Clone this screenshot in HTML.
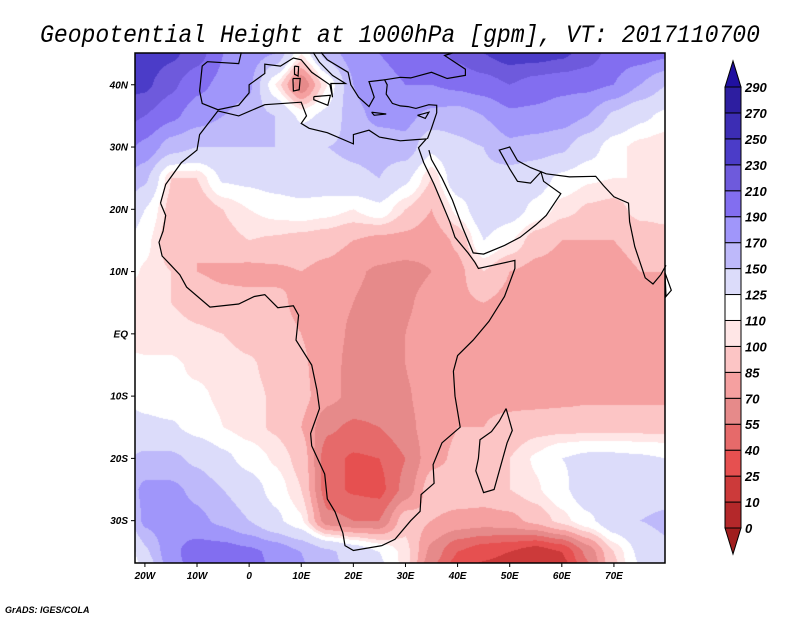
<!DOCTYPE html>
<html><head><meta charset="utf-8"><style>
html,body{margin:0;padding:0;background:#fff;width:800px;height:618px;overflow:hidden}
#wrap{position:relative;width:800px;height:618px}
svg text{font-family:"Liberation Sans",sans-serif}
</style></head><body>
<div id="wrap">
<canvas id="field" width="530" height="510" style="position:absolute;left:135px;top:53px"></canvas>
<svg id="ov" width="800" height="618" style="position:absolute;left:0;top:0"></svg>
</div>
<script>
// ---- data ----
const lons = [-25,-20,-15,-10,-5,0,5,10,15,20,25,30,35,40,45,50,55,60,65,70,75,80];
const lats = [45,40,35,30,25,20,15,10,5,0,-5,-10,-15,-20,-25,-30,-35,-40];
const gridValues = [
[250,245,235,220,190,180,170,110,160,180,190,195,200,215,230,240,240,235,220,200,200,195],
[240,235,215,195,185,175,110,55,110,170,185,190,190,195,200,210,200,195,195,190,170,150],
[220,210,195,180,170,160,150,120,130,165,175,175,165,160,170,185,185,180,170,145,130,120],
[200,185,160,150,150,150,150,145,150,155,160,165,130,145,150,165,160,155,135,115,105,100],
[175,155,100,100,128,130,135,140,140,145,150,130,100,140,145,140,135,120,112,110,110,110],
[150,125,95,90,100,110,115,118,115,110,120,100,85,115,140,135,120,105,98,95,105,105],
[135,115,90,85,95,100,98,95,92,85,80,80,75,88,125,112,92,85,85,85,90,95],
[120,108,100,85,82,80,82,85,80,72,68,65,70,80,100,85,80,78,78,80,85,85],
[105,100,100,95,90,90,88,82,75,70,65,68,75,82,85,80,78,78,80,80,82,82],
[105,105,105,102,100,95,90,85,75,68,66,70,80,85,82,80,78,78,78,80,80,80],
[115,112,112,108,105,102,95,88,75,66,64,70,82,82,80,78,78,78,80,80,82,82],
[125,118,112,112,108,104,98,90,75,66,64,68,78,85,82,80,78,80,82,82,82,82],
[135,130,128,118,110,104,98,85,58,52,55,65,78,85,85,90,95,95,95,95,95,95],
[145,155,155,145,130,118,108,95,45,38,40,55,80,88,90,100,112,125,130,130,128,125],
[150,175,175,165,150,135,118,100,45,38,35,60,95,95,95,100,108,120,140,140,138,140],
[125,175,185,175,165,150,130,112,60,55,55,95,85,80,78,80,90,105,120,140,150,155],
[85,145,185,200,200,195,185,170,155,140,125,105,65,40,30,25,15,25,60,100,130,145],
[70,115,175,200,205,200,190,175,160,150,135,105,45,20,10,5,0,5,40,90,120,140]
];
const levels = [0,10,25,40,55,70,85,100,110,125,150,170,190,210,230,250,270,290];
const levelLabels = ["0","10","25","40","55","70","85","100","110","125","150","170","190","210","230","250","270","290"];
const binColors = ["#b4282a","#cc3a3a","#e65050","#e66a6a","#e68a8a","#f5a0a0","#fcc5c5","#ffe6e6","#ffffff","#dcdcfa","#beb9fa","#a096fa","#826ef0","#6e5adc","#4b3cc8","#3c2db4","#2d1ea0"];
const underColor = "#a01e1e", overColor = "#2010a0";
const xTickLons = [-20,-10,0,10,20,30,40,50,60,70];
const xTickLabels = ["20W","10W","0","10E","20E","30E","40E","50E","60E","70E"];
const yTickLats = [40,30,20,10,0,-10,-20,-30];
const yTickLabels = ["40N","30N","20N","10N","EQ","10S","20S","30S"];

// ---- axes ----
const X0=135,X1=665,Y0=53,Y1=563;
const LON0=-21.9,LON1=79.8,LAT0=45.1,LAT1=-36.8;
const xOf = lon => X0+(lon-LON0)/(LON1-LON0)*(X1-X0);
const yOf = lat => Y0+(lat-LAT0)/(LAT1-LAT0)*(Y1-Y0);

function hex(c){return [parseInt(c.substr(1,2),16),parseInt(c.substr(3,2),16),parseInt(c.substr(5,2),16)];}
function colorFor(v){
  if(v<levels[0]) return underColor;
  for(let i=0;i<levels.length-1;i++) if(v<levels[i+1]) return binColors[i];
  return overColor;
}
function sample(lon,lat){
  let fi=(lon-lons[0])/5, fj=(lats[0]-lat)/5;
  fi=Math.max(0,Math.min(lons.length-1.0001,fi)); fj=Math.max(0,Math.min(lats.length-1.0001,fj));
  const i=Math.floor(fi),j=Math.floor(fj),a=fi-i,b=fj-j;
  const s=t=>t*t*(3-2*t); const A=s(a)*0.5+a*0.5,B=s(b)*0.5+b*0.5;
  const g=gridValues;
  return g[j][i]*(1-A)*(1-B)+g[j][i+1]*A*(1-B)+g[j+1][i]*(1-A)*B+g[j+1][i+1]*A*B;
}
// ---- field ----
const cv=document.getElementById('field'),ctx=cv.getContext('2d');
const img=ctx.createImageData(cv.width,cv.height);
const cache={};
for(let py=0;py<cv.height;py++){
  const lat=LAT0+(py+0.5)/(Y1-Y0)*(LAT1-LAT0);
  for(let px=0;px<cv.width;px++){
    const lon=LON0+(px+0.5)/(X1-X0)*(LON1-LON0);
    const c=colorFor(sample(lon,lat));
    const rgb=cache[c]||(cache[c]=hex(c));
    const k=(py*cv.width+px)*4;
    img.data[k]=rgb[0];img.data[k+1]=rgb[1];img.data[k+2]=rgb[2];img.data[k+3]=255;
  }
}
ctx.putImageData(img,0,0);

// ---- overlay ----
const NS='http://www.w3.org/2000/svg';
const svg=document.getElementById('ov');
function mk(tag,attrs,parent){const e=document.createElementNS(NS,tag);for(const k in attrs)e.setAttribute(k,attrs[k]);(parent||svg).appendChild(e);return e;}

const coasts = {
 africa:[[-17,21],[-16,24],[-13,27.5],[-10,29.5],[-9.5,32],[-6,35.8],[-2,35],[3,36.8],[10,37.2],[11,35],[10,33.8],[11.5,33],[15,32.3],[20,30.5],[20,32],[23,32.7],[25,31.6],[29,31],[32,31.2],[34,31.3],[32.5,29.9],[33.5,27.5],[35.5,24],[37,21],[38.5,18],[39.5,15.5],[42,13],[43.3,11.5],[44,10.5],[51,11.8],[51,10.5],[49,6],[46,2],[43,-1],[40,-3.5],[39.2,-6],[39.5,-10],[40.5,-15],[37,-17.5],[35.3,-21],[35.5,-24],[33,-25.8],[32.8,-28.5],[31,-30],[28,-33],[25.5,-34],[20,-34.8],[18.4,-34],[18,-32],[16.5,-28.6],[15,-26.5],[14.5,-22.5],[12,-18],[11.8,-16],[13.5,-12],[13,-9],[12,-5],[9,-1],[9.5,3],[8.5,4.5],[5.5,4.2],[3,6.3],[1,6],[-2,4.8],[-7.5,4.3],[-12,7.5],[-13.3,9.5],[-15,11],[-16.7,12.5],[-17.3,14.7],[-16.5,16.5],[-16,19],[-17,21]],
 madagascar:[[49.3,-12],[50.5,-15.5],[49.5,-17.5],[48,-22],[47,-25],[45,-25.5],[43.5,-22],[44,-20],[44.3,-17],[46.5,-15.7],[48,-14],[49.3,-12]],
 asia:[[34.2,31.3],[35,33],[36,35.5],[36,36.7],[34.5,36.8],[32,36.2],[30.5,36.5],[29,36.6],[27.5,37],[26.3,38.5],[26.5,40],[26,40.8],[29,41.2],[31,41.1],[35,42],[38,41],[41.5,41.5],[41.5,42.5],[37.5,44.7],[39,45.1]],
 arabia:[[34.5,29.5],[35,28],[37,25],[39,21.5],[41,17],[43,13],[45,12.8],[49,14.2],[52,15.5],[55,17.5],[57,19],[59.8,22.5],[56.5,24.5],[56,26],[54,24.2],[51.5,24.5],[50,26.5],[48,29.5],[50,30],[51.5,27.8],[54,26.7],[57,25.7],[61.5,25.2],[66.5,25.3],[68,23.8],[70,22],[72.8,21],[73,18],[74,14],[76,9],[77.5,8],[79,9.5],[80,11]],
 iberia:[[-1.5,45.2],[-2,43.4],[-8,43.7],[-9,43],[-9.5,39],[-9,37],[-6,36],[-2,36.7],[0,38.7],[0,40],[3,41.8],[3,43.3],[6,43],[8.5,44.3],[10,44],[12,42],[15.5,40],[16,38],[15.7,40.2],[18.5,40.2],[16,41.5],[13.5,43.6],[12.3,45.2]],
 balkans:[[13.8,45.2],[15,44],[19,42],[19.5,40],[21,38],[23,36.5],[24,38],[23,40.5],[26,40.8]],
 sardinia:[[8.4,41],[9.8,41],[9.6,39.2],[8.5,39],[8.4,41]],
 corsica:[[8.7,43],[9.5,42.9],[9.4,41.4],[8.7,41.7],[8.7,43]],
 sicily:[[12.4,38.1],[15.6,38.3],[15.1,36.7],[12.4,37.6],[12.4,38.1]],
 crete:[[23.5,35.6],[26.3,35.3],[24,35.1],[23.5,35.6]],
 cyprus:[[32.3,35.1],[34.5,35.6],[33.8,34.6],[32.3,35.1]],
 srilanka:[[79.8,9.8],[81,7],[80,6],[79.8,9.8]]
};
const gMap=mk('g',{});
for(const name in coasts){
  const d=coasts[name].map((p,i)=>(i?'L':'M')+xOf(p[0]).toFixed(1)+','+yOf(p[1]).toFixed(1)).join('');
  const p=mk('path',{d:d,fill:'none',stroke:'#000','stroke-width':1.2},gMap);
  
  
}
const fr=mk('rect',{x:X0,y:Y0,width:X1-X0,height:Y1-Y0,fill:'none',stroke:'#000','stroke-width':1.5});


xTickLons.forEach((lon,i)=>{
  const x=xOf(lon);
  const t=mk('line',{x1:x,x2:x,y1:Y1,y2:Y1+4,stroke:'#000','stroke-width':1});
  
  
  const l=mk('text',{x:x,y:Y1+16,'text-anchor':'middle','font-size':'10','font-weight':'bold','font-style':'italic'});
  l.textContent=xTickLabels[i];
  
  
});
yTickLats.forEach((lat,i)=>{
  const y=yOf(lat);
  const t=mk('line',{x1:X0-4,x2:X0,y1:y,y2:y,stroke:'#000','stroke-width':1});
  
  
  const l=mk('text',{x:X0-7,y:y+3.5,'text-anchor':'end','font-size':'10','font-weight':'bold','font-style':'italic'});
  l.textContent=yTickLabels[i];
  
  
});
const ti=mk('text',{x:40,y:42,'font-size':'25','font-style':'italic',textLength:720,lengthAdjust:'spacingAndGlyphs',style:'font-family:"Liberation Mono",monospace'});
ti.textContent='Geopotential Height at 1000hPa [gpm], VT: 2017110700';


const cr=mk('text',{x:5,y:613,'font-size':'9','font-weight':'bold','font-style':'italic'});
cr.textContent='GrADS: IGES/COLA';


const CB={x:725,w:16,top:87,bot:528};
const n=binColors.length, bh=(CB.bot-CB.top)/n;
const gCb=mk('g',{});
binColors.forEach((c,i)=>{
  const r=mk('rect',{x:CB.x,y:CB.bot-(i+1)*bh,width:CB.w,height:bh,fill:c,stroke:'#000','stroke-width':1},gCb);
  
  
});
const tu=mk('polygon',{points:`${CB.x},${CB.top} ${CB.x+CB.w},${CB.top} ${CB.x+CB.w/2},${CB.top-26}`,fill:overColor,stroke:'#000','stroke-width':1},gCb);


const td=mk('polygon',{points:`${CB.x},${CB.bot} ${CB.x+CB.w},${CB.bot} ${CB.x+CB.w/2},${CB.bot+26}`,fill:underColor,stroke:'#000','stroke-width':1},gCb);


levels.forEach((v,i)=>{
  const y=CB.bot-i*bh;
  const l=mk('text',{x:CB.x+CB.w+4,y:y+5,'font-size':'13','font-weight':'bold','font-style':'italic'},gCb);
  l.textContent=levelLabels[i];
  
  
});
</script>
</body></html>
